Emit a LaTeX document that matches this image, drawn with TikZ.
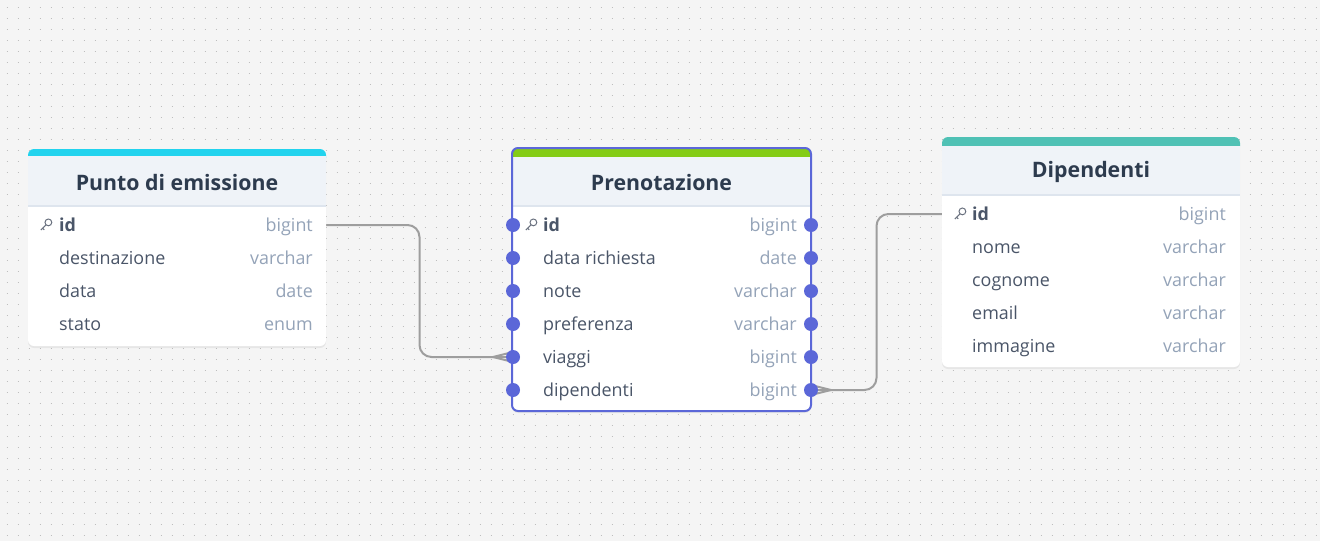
\documentclass[tikz,border=0pt]{standalone}
\usepackage{fontspec}
\setmainfont{Open Sans}
\usetikzlibrary{calc,shadows,backgrounds}

\definecolor{canvas}{HTML}{F5F5F5}
\definecolor{griddot}{HTML}{BEBEBE}
\definecolor{hdrfill}{HTML}{EFF3F8}
\definecolor{hdrline}{HTML}{DEE5EE}
\definecolor{titletext}{HTML}{2D3B4E}
\definecolor{fieldtext}{HTML}{4A5568}
\definecolor{typetext}{HTML}{94A3B8}
\definecolor{barcyan}{HTML}{22D3EE}
\definecolor{bargreen}{HTML}{84CC16}
\definecolor{barteal}{HTML}{4FC1B5}
\definecolor{selblue}{HTML}{5B67D8}
\definecolor{linkgray}{HTML}{9E9E9E}
\definecolor{keygray}{HTML}{6B7280}

\tikzset{
  tabtitle/.style={font=\bfseries\fontsize{21.3}{24}\selectfont, text=titletext, inner sep=0},
  field/.style={anchor=west, inner sep=0, text height=12pt, text depth=0pt,
    font=\fontsize{17.9}{20}\selectfont, text=fieldtext},
  keyfield/.style={field, font=\bfseries\fontsize{17.9}{20}\selectfont},
  ftype/.style={field, anchor=east, text=typetext},
  link/.style={draw=linkgray, line width=2pt, rounded corners=12pt},
  pdot/.style={circle, fill=selblue, inner sep=0, minimum size=14pt},
  tabbody/.style={fill=white, rounded corners=6pt,
    drop shadow={opacity=0.12, shadow xshift=0pt, shadow yshift=-2pt}},
  keyicon/.pic={
    \draw[keygray, line width=1pt] (2.4,-2.6) circle (3.4);
    \draw[keygray, line width=1pt] (0,-0.2) -- (-5.2,5);
    \draw[keygray, line width=1pt] (-3.4,3.2) -- (-1.8,4.8);
  }
}

\begin{document}
\begin{tikzpicture}[x=1pt, y=-1pt]
\useasboundingbox (0,0) rectangle (1320,541);

% Canvas with dot grid
\begin{pgfonlayer}{background}
\fill[canvas] (0,0) rectangle (1320,541);
\foreach \y in {7.3,18.3,...,541}
  \draw[griddot, line width=1.4pt, dash pattern=on 1.4pt off 9.6pt, dash phase=4.4pt] (0,\y) -- (1320,\y);
\end{pgfonlayer}

% Punto di emissione
\fill[tabbody] (28,149) rectangle (326,346);
\fill[barcyan, rounded corners=6pt] (28,149) rectangle (326,164);
\fill[hdrfill] (28,156) rectangle (326,206);
\draw[hdrline, line width=1.5pt] (28,206) -- (326,206);
\node[tabtitle] (pe-title) at (177,183) {Punto di emissione};
\pic at (46,225) {keyicon};
\node[keyfield] (pe-id) at (59,225) {id};
\node[ftype] (pe-id-t) at (313,225) {bigint};
\node[field] (pe-dest) at (59,258) {destinazione};
\node[ftype] (pe-dest-t) at (313,258) {varchar};
\node[field] (pe-data) at (59,291) {data};
\node[ftype] (pe-data-t) at (313,291) {date};
\node[field] (pe-stato) at (59,324) {stato};
\node[ftype] (pe-stato-t) at (313,324) {enum};
\coordinate (pe-id-r) at (326,225);

% Prenotazione
\fill[tabbody] (512,148) rectangle (811,411);
\fill[bargreen, rounded corners=6pt] (512,148) rectangle (811,164);
\fill[hdrfill] (512,156.5) rectangle (811,206);
\draw[hdrline, line width=1.5pt] (512,206) -- (811,206);
\draw[selblue, line width=2pt, rounded corners=6pt] (512,148) rectangle (811,411);
\node[tabtitle] (pr-title) at (661.5,183) {Prenotazione};
\pic at (531,225) {keyicon};
\node[keyfield] (pr-id) at (543,225) {id};
\node[ftype] (pr-id-t) at (797,225) {bigint};
\node[field] (pr-data) at (543,258) {data richiesta};
\node[ftype] (pr-data-t) at (797,258) {date};
\node[field] (pr-note) at (543,291) {note};
\node[ftype] (pr-note-t) at (797,291) {varchar};
\node[field] (pr-pref) at (543,324) {preferenza};
\node[ftype] (pr-pref-t) at (797,324) {varchar};
\node[field] (pr-viaggi) at (543,357) {viaggi};
\node[ftype] (pr-viaggi-t) at (797,357) {bigint};
\node[field] (pr-dip) at (543,390) {dipendenti};
\node[ftype] (pr-dip-t) at (797,390) {bigint};

% Prenotazione handles
\node[pdot] (pr-id-l) at (513,225) {};
\node[pdot] (pr-id-r) at (811,225) {};
\node[pdot] (pr-data-l) at (513,258) {};
\node[pdot] (pr-data-r) at (811,258) {};
\node[pdot] (pr-note-l) at (513,291) {};
\node[pdot] (pr-note-r) at (811,291) {};
\node[pdot] (pr-pref-l) at (513,324) {};
\node[pdot] (pr-pref-r) at (811,324) {};
\node[pdot] (pr-viaggi-l) at (513,357) {};
\node[pdot] (pr-viaggi-r) at (811,357) {};
\node[pdot] (pr-dip-l) at (513,390) {};
\node[pdot] (pr-dip-r) at (811,390) {};

% Dipendenti
\fill[tabbody] (942,137) rectangle (1240,367);
\fill[barteal, rounded corners=6pt] (942,137) rectangle (1240,152);
\fill[hdrfill] (942,146) rectangle (1240,195);
\draw[hdrline, line width=1.5pt] (942,195) -- (1240,195);
\node[tabtitle] (dp-title) at (1091,172) {Dipendenti};
\pic at (960,214) {keyicon};
\node[keyfield] (dp-id) at (972,214) {id};
\node[ftype] (dp-id-t) at (1226,214) {bigint};
\node[field] (dp-nome) at (972,247) {nome};
\node[ftype] (dp-nome-t) at (1226,247) {varchar};
\node[field] (dp-cognome) at (972,280) {cognome};
\node[ftype] (dp-cognome-t) at (1226,280) {varchar};
\node[field] (dp-email) at (972,313) {email};
\node[ftype] (dp-email-t) at (1226,313) {varchar};
\node[field] (dp-img) at (972,346) {immagine};
\node[ftype] (dp-img-t) at (1226,346) {varchar};
\coordinate (dp-id-l) at (942,214);

% Relations
\begin{pgfonlayer}{background}
\draw[link] (pe-id-r) -| ($(pe-id-r)!0.5!(pr-viaggi-l)$) |- (pr-viaggi-l);
\draw[link, rounded corners=0pt] (pr-viaggi-l) ++(0,-5) -- ++(-20,5) -- ++(20,5);
\draw[link] (pr-dip-r) -| ($(pr-dip-r)!0.5!(dp-id-l)$) |- (dp-id-l);
\draw[link, rounded corners=0pt] (pr-dip-r) ++(0,-5) -- ++(20,5) -- ++(-20,5);
\end{pgfonlayer}

\end{tikzpicture}
\end{document}
